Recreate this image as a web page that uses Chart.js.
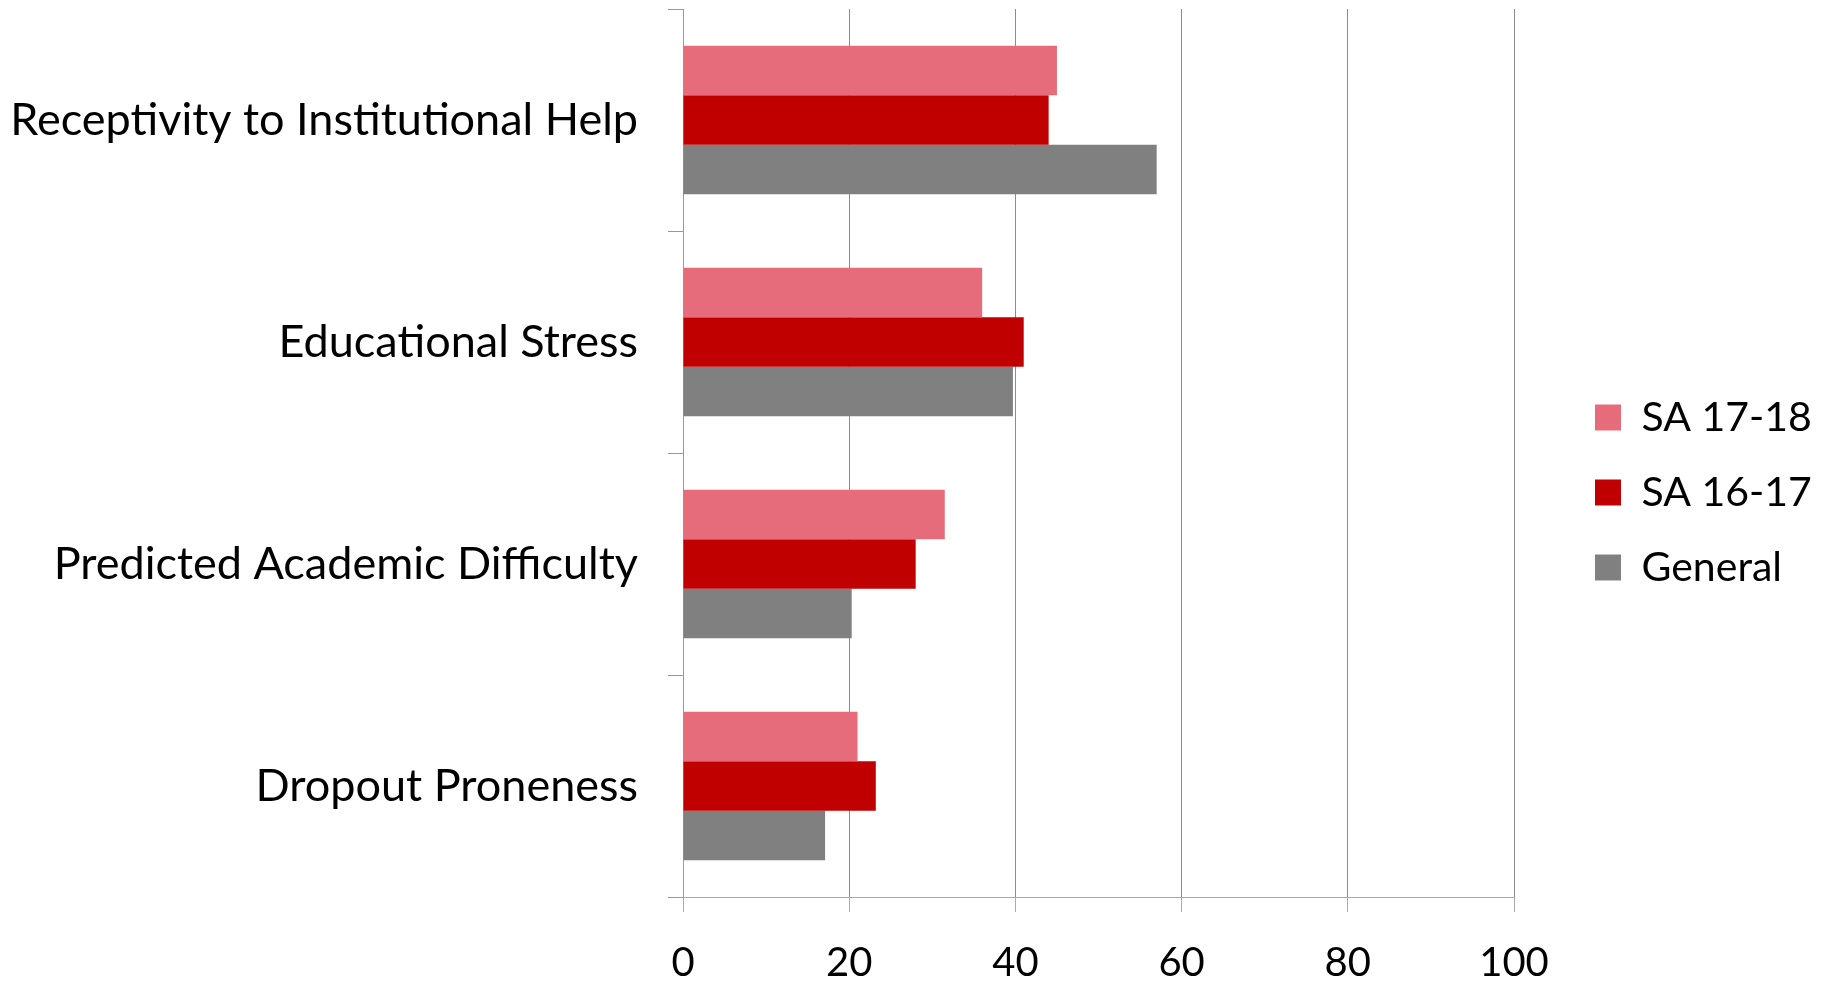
<!DOCTYPE html>
<html>
<head>
<meta charset="utf-8">
<script src="https://cdn.jsdelivr.net/npm/chart.js@4"></script>
<style>
html,body{margin:0;padding:0;background:#fff;}
</style>
</head>
<body>
<canvas id="chart" width="1825" height="982"></canvas>
<script>

// data
let categories=["Receptivity to Institutional Help","Educational Stress","Predicted Academic Difficulty","Dropout Proneness"];
let seriesNames=["SA 17-18","SA 16-17","General"];
let sa1718=[45,36,31.5,21];
let sa1617=[44,41,28,23.2];
let general=[57,39.7,20.3,17.1];
let xTicks=[0,20,40,60,80,100];

let colors=["#E66C7C","#C00000","#808080"];

Chart.defaults.font.family="Lato, 'Open Sans', sans-serif";
Chart.defaults.color="#000";

// push the legend items to the right, away from the plot area
let legendGap={
id:"legendGap",
afterInit(chart){
let lg=chart.legend;
let fit=lg.fit;
lg.fit=function(){
fit.call(this);
this.width=293;
};
},
afterLayout(chart){
let lg=chart.legend;
lg.left+=47;
lg.right+=47;
lg.top-=3;
lg.bottom-=3;
}
};

new Chart(document.getElementById("chart"),{

type:"bar",

data:{
labels:categories,
datasets:[
{label:seriesNames[0],data:sa1718,backgroundColor:colors[0]},
{label:seriesNames[1],data:sa1617,backgroundColor:colors[1]},
{label:seriesNames[2],data:general,backgroundColor:colors[2]}
]
},

options:{
indexAxis:"y",
responsive:false,
animation:false,
layout:{padding:{top:9,right:18,bottom:0,left:0}},
datasets:{bar:{categoryPercentage:0.67,barPercentage:1}},
scales:{
x:{
min:0,
max:100,
afterBuildTicks:s=>{s.ticks=xTicks.map(v=>({value:v}));},
afterFit:s=>{s.height=85;},
grid:{color:"#8c8c8c",lineWidth:1,tickLength:15,tickColor:"#aaa"},
border:{color:"#aaa"},
ticks:{font:{size:40},padding:27,color:"#000"}
},
y:{
afterFit:s=>{s.width=683;s.paddingTop=0;s.paddingBottom=0;},
grid:{drawOnChartArea:false,tickLength:15,color:"#999",offset:true},
border:{color:"#999"},
ticks:{font:{size:45},padding:30,color:"#000"}
}
},
plugins:{
legend:{
position:"right",
labels:{boxWidth:26,boxHeight:26,padding:34,font:{size:41},color:"#000"}
},
tooltip:{enabled:false}
}
},

plugins:[legendGap]

});

</script>
</body>
</html>
